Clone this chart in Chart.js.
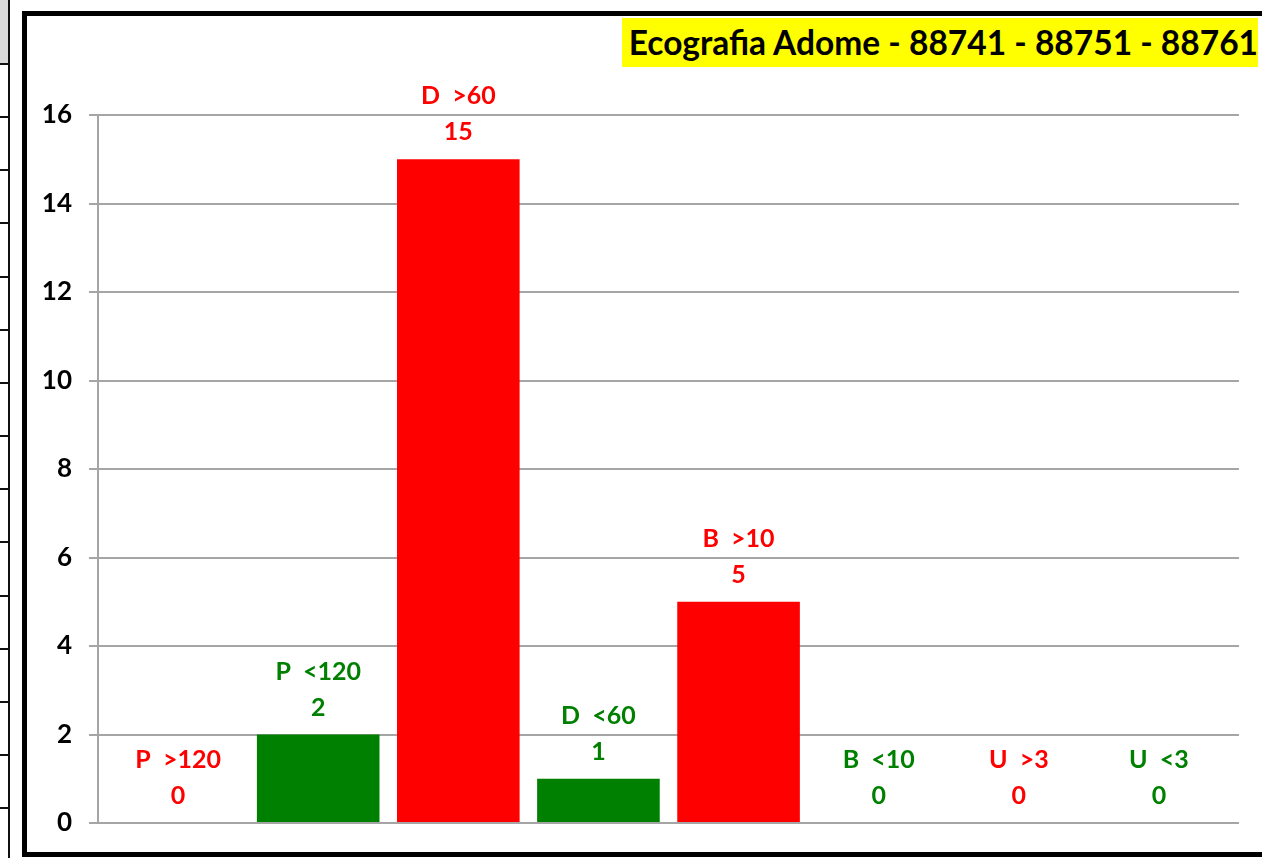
<!DOCTYPE html>
<html lang="it">
<head>
  <meta charset="UTF-8">
  <title>Ecografia Adome</title>
  <script src="https://cdn.jsdelivr.net/npm/chart.js"></script>
  <style>
    body { margin: 0; background: #fff; font-family: Lato, sans-serif; }
    #wrap { position: relative; width: 1262px; height: 858px; overflow: hidden; }
    #sheetHead { position: absolute; left: 0; top: 0; width: 8px; height: 63px; background: #d9d9d9; }
    #sheetLine { position: absolute; left: 8px; top: 0; width: 2px; height: 858px; background: #111; }
    .row { position: absolute; left: 0; width: 9px; height: 2px; background: #111; }
    #frame {
      position: absolute; left: 22px; top: 11px; width: 1300px; height: 836px;
      border: 5px solid #000; border-right: none; background: #fff;
    }
    #chart { position: absolute; left: 0; top: 0; }
    #titolo {
      position: absolute; left: 622px; top: 18px; width: 636px; height: 49px;
      background: #ffff00; color: #000; font: bold 33.5px Lato, sans-serif;
      line-height: 49px; text-align: right; white-space: nowrap; overflow: hidden;
    }
  </style>
</head>
<body>
  <div id="wrap">
    <div id="sheetHead"></div>
    <div id="sheetLine"></div>
    <div id="frame"></div>
    <canvas id="chart" width="1262" height="858"></canvas>
    <div id="titolo">Ecografia Adome - 88741 - 88751 - 88761</div>
  </div>

  <script>
    const categories = ["P  >120", "P  <120", "D  >60", "D  <60", "B  >10", "B  <10", "U  >3", "U  <3"];
    const counts = [0, 2, 15, 1, 5, 0, 0, 0];
    const barColors = ["#ff0000", "#008000", "#ff0000", "#008000", "#ff0000", "#008000", "#ff0000", "#008000"];
    const yMin = 0, yMax = 16, yStep = 2;

    // righe del foglio a sinistra
    const wrap = document.getElementById("wrap");
    for (let i = 0; i < 15; i++) {
      const r = document.createElement("div");
      r.className = "row";
      r.style.top = (63 + i * 53.15) + "px";
      wrap.insertBefore(r, document.getElementById("frame"));
    }

    const barLabels = {
      id: "barLabels",
      afterDatasetsDraw(chart) {
        const ctx = chart.ctx;
        const meta = chart.getDatasetMeta(0);
        ctx.save();
        ctx.font = "bold 25px Lato, sans-serif";
        ctx.textAlign = "center";
        ctx.textBaseline = "middle";
        meta.data.forEach((bar, i) => {
          ctx.fillStyle = barColors[i];
          ctx.fillText(categories[i], bar.x, bar.y - 63);
          ctx.fillText(String(counts[i]), bar.x, bar.y - 27);
        });
        ctx.restore();
      }
    };

    const edge = 10 / 140;
    new Chart(document.getElementById("chart"), {
      type: "bar",
      data: {
        datasets: [{
          data: counts.map((v, i) => ({ x: i, y: v })),
          backgroundColor: barColors,
          borderWidth: 0,
          barPercentage: 0.875,
          categoryPercentage: 1
        }]
      },
      options: {
        responsive: false,
        animation: false,
        devicePixelRatio: 1,
        layout: { padding: { left: 0, top: 115, right: 23, bottom: 35 } },
        plugins: { legend: { display: false }, tooltip: { enabled: false } },
        scales: {
          x: {
            type: "linear",
            display: false,
            offset: false,
            min: -0.5 - edge,
            max: categories.length - 0.5 + edge
          },
          y: {
            min: yMin,
            max: yMax,
            afterFit: s => { s.width = 98; },
            ticks: {
              stepSize: yStep,
              padding: 17,
              color: "#000",
              font: { family: "Lato", weight: "bold", size: 26 }
            },
            grid: { color: "#a5a5a5", lineWidth: 2, tickLength: 9, drawTicks: true },
            border: { color: "#a5a5a5", width: 2 }
          }
        }
      },
      plugins: [barLabels]
    });
  </script>
</body>
</html>
